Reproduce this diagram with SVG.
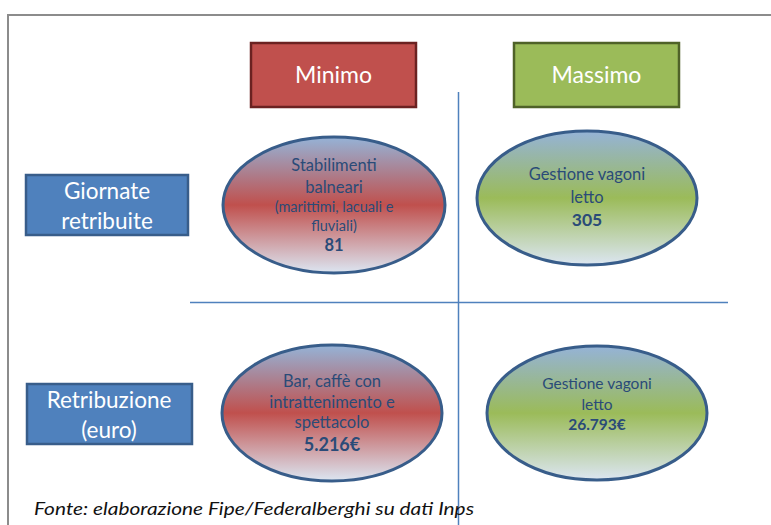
<svg xmlns="http://www.w3.org/2000/svg" width="771" height="525" viewBox="0 0 771 525">
<defs>
<linearGradient id="gRed" x1="0" y1="0" x2="0" y2="1">
<stop offset="0" stop-color="#95B3D7"/>
<stop offset="0.5" stop-color="#C0504D"/>
<stop offset="1" stop-color="#DCE6F2"/>
</linearGradient>
<linearGradient id="gGreen" x1="0" y1="0" x2="0" y2="1">
<stop offset="0" stop-color="#95B3D7"/>
<stop offset="0.5" stop-color="#9BBB59"/>
<stop offset="1" stop-color="#DCE6F2"/>
</linearGradient>
</defs>
<style>
.frame{fill:none;stroke:#8C8C8C;stroke-width:2}
.axis{stroke:#4F81BD;stroke-width:1.5}
.hdr{font-family:Lato,"Open Sans",sans-serif;font-size:23px;fill:#FFFFFF;text-anchor:middle}
.lbl{font-family:Lato,"Open Sans",sans-serif;font-size:22.5px;fill:#FFFFFF;text-anchor:middle}
.blue{fill:#4F81BD;stroke:#385D8A;stroke-width:2.5}
.ell{stroke:#385D8A;stroke-width:3}
.t{font-family:Lato,"Open Sans",sans-serif;font-size:16.5px;fill:#2A4B78;text-anchor:middle}
.ts{font-size:14.5px}
.b{font-weight:bold}
.src{font-family:Lato,"Open Sans",sans-serif;font-style:italic;font-size:17px;fill:#111111}
</style>
<path class="frame" d="M8,525 V15 H771"/>
<g id="connectors">
<line class="axis" x1="458.5" y1="92" x2="458.5" y2="525"/>
<line class="axis" x1="190" y1="302.5" x2="728" y2="302.5"/>
</g>
<g id="minimo">
<rect x="251" y="43" width="165" height="64" fill="#C0504D" stroke="#6B2221" stroke-width="2.5"/>
<text class="hdr" x="333.5" y="83">Minimo</text>
</g>
<g id="massimo">
<rect x="514" y="43" width="165" height="64" fill="#9BBB59" stroke="#4F6228" stroke-width="2.5"/>
<text class="hdr" x="596.5" y="83">Massimo</text>
</g>
<g id="giornate">
<rect class="blue" x="26" y="175" width="162" height="60"/>
<text class="lbl" x="107" y="199">Giornate</text>
<text class="lbl" x="107" y="229">retribuite</text>
</g>
<g id="retribuzione">
<rect class="blue" x="27" y="384" width="165" height="60"/>
<text class="lbl" x="109" y="408">Retribuzione</text>
<text class="lbl" x="109" y="438">(euro)</text>
</g>
<g id="min-giornate">
<ellipse class="ell" cx="334" cy="205" rx="111" ry="68" fill="url(#gRed)"/>
<text class="t" x="334" y="171">Stabilimenti</text>
<text class="t" x="334" y="193">balneari</text>
<text class="t ts" x="334" y="212">(marittimi, lacuali e</text>
<text class="t ts" x="334" y="231">fluviali)</text>
<text class="t b" x="334" y="251">81</text>
</g>
<g id="max-giornate">
<ellipse class="ell" cx="587" cy="198" rx="110" ry="67" fill="url(#gGreen)"/>
<text class="t" x="587" y="180">Gestione vagoni</text>
<text class="t" x="587" y="203">letto</text>
<text class="t b" x="587" y="226" style="font-size:17.5px">305</text>
</g>
<g id="min-retribuzione">
<ellipse class="ell" cx="332" cy="413" rx="110" ry="68" fill="url(#gRed)"/>
<text class="t" x="332" y="387">Bar, caffè con</text>
<text class="t" x="332" y="408">intrattenimento e</text>
<text class="t" x="332" y="428">spettacolo</text>
<text class="t b" x="332" y="451" style="font-size:18px">5.216€</text>
</g>
<g id="max-retribuzione">
<ellipse class="ell" cx="597" cy="413" rx="110" ry="67" fill="url(#gGreen)"/>
<text class="t" x="597" y="389" style="font-size:15.5px">Gestione vagoni</text>
<text class="t" x="597" y="410" style="font-size:15.5px">letto</text>
<text class="t b" x="597" y="430" style="font-size:15.5px">26.793€</text>
</g>
<text class="src" x="34" y="515" textLength="440" lengthAdjust="spacingAndGlyphs">Fonte: elaborazione Fipe/Federalberghi su dati Inps</text>
</svg>
